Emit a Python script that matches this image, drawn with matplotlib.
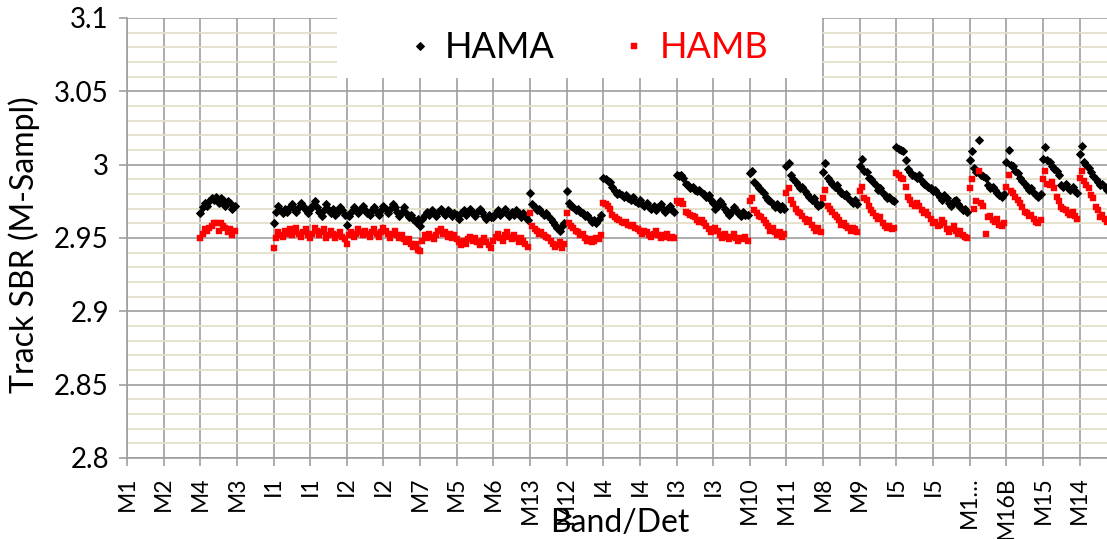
import numpy as np
import matplotlib
matplotlib.use("Agg")
import matplotlib.pyplot as plt
from matplotlib.patches import Rectangle
from matplotlib.ticker import FixedLocator, MultipleLocator, FuncFormatter

plt.rcParams['font.family'] = ['Lato', 'DejaVu Sans']

# bands in plotting order (M bands have 16 detectors, I bands 32)
bands = ["M1", "M2", "M4", "M3", "I1", "I2", "M7", "M5", "M6", "M13", "M12",
         "I4", "I3", "M10", "M11", "M8", "M9", "I5", "M16A", "M16B", "M15", "M14"]

# category labels shown every 16 detectors
tick_labels = ["M1", "M2", "M4", "M3", "I1", "I1", "I2", "I2", "M7", "M5", "M6",
               "M13", "M12", "I4", "I4", "I3", "I3", "M10", "M11", "M8", "M9",
               "I5", "I5", "M1\u2026", "M16B", "M15", "M14"]

# Track SBR per detector, HAMA
hama_M4 = [2.967, 2.971, 2.974, 2.972, 2.975, 2.977, 2.976, 2.978,
           2.974, 2.977, 2.976, 2.972, 2.975, 2.974, 2.970, 2.972]
hama_I1 = [2.960, 2.968, 2.972, 2.969, 2.967, 2.970, 2.968, 2.971,
           2.973, 2.970, 2.968, 2.971, 2.974, 2.972, 2.969, 2.967,
           2.970, 2.972, 2.975, 2.971, 2.968, 2.965, 2.969, 2.973,
           2.970, 2.967, 2.970, 2.966, 2.968, 2.971, 2.969, 2.966]
hama_I2 = [2.959, 2.965, 2.968, 2.971, 2.969, 2.967, 2.970, 2.972,
           2.969, 2.967, 2.966, 2.969, 2.971, 2.968, 2.966, 2.969,
           2.972, 2.970, 2.967, 2.970, 2.973, 2.971, 2.968, 2.965,
           2.968, 2.971, 2.967, 2.964, 2.966, 2.963, 2.961, 2.963]
hama_M7 = [2.958, 2.963, 2.966, 2.968, 2.966, 2.969, 2.967, 2.965,
           2.968, 2.970, 2.968, 2.966, 2.969, 2.967, 2.965, 2.967]
hama_M5 = [2.966, 2.963, 2.967, 2.969, 2.966, 2.968, 2.970, 2.967,
           2.965, 2.968, 2.970, 2.968, 2.965, 2.963, 2.966, 2.964]
hama_M6 = [2.964, 2.967, 2.969, 2.966, 2.968, 2.970, 2.967, 2.965,
           2.968, 2.966, 2.969, 2.967, 2.964, 2.967, 2.965, 2.962]
hama_M13 = [2.981, 2.973, 2.971, 2.969, 2.970, 2.968, 2.966, 2.967,
            2.965, 2.963, 2.961, 2.959, 2.957, 2.955, 2.958, 2.960]
hama_M12 = [2.982, 2.974, 2.972, 2.971, 2.969, 2.970, 2.968, 2.967,
            2.965, 2.966, 2.963, 2.961, 2.962, 2.960, 2.963, 2.966]
hama_I4 = [2.991, 2.990, 2.989, 2.988, 2.985, 2.982, 2.980, 2.981,
           2.979, 2.978, 2.979, 2.977, 2.976, 2.978, 2.975, 2.974,
           2.976, 2.973, 2.972, 2.974, 2.971, 2.970, 2.972, 2.969,
           2.971, 2.973, 2.970, 2.968, 2.970, 2.972, 2.969, 2.968]
hama_I3 = [2.993, 2.992, 2.993, 2.991, 2.987, 2.986, 2.984, 2.985,
           2.983, 2.982, 2.983, 2.981, 2.980, 2.978, 2.979, 2.976,
           2.974, 2.970, 2.972, 2.975, 2.973, 2.970, 2.968, 2.966,
           2.968, 2.971, 2.969, 2.967, 2.965, 2.968, 2.966, 2.966]
hama_M10 = [2.994, 2.996, 2.988, 2.986, 2.984, 2.983, 2.981, 2.978,
            2.976, 2.975, 2.973, 2.971, 2.973, 2.970, 2.972, 2.970]
hama_M11 = [2.999, 3.001, 2.993, 2.990, 2.988, 2.986, 2.984, 2.985,
            2.982, 2.980, 2.978, 2.976, 2.977, 2.974, 2.972, 2.973]
hama_M8 = [2.995, 3.001, 2.991, 2.989, 2.987, 2.985, 2.986, 2.983,
           2.981, 2.979, 2.980, 2.977, 2.975, 2.974, 2.976, 2.973]
hama_M9 = [2.999, 3.004, 2.996, 2.995, 2.991, 2.990, 2.988, 2.986,
           2.983, 2.984, 2.981, 2.979, 2.977, 2.978, 2.976, 2.975]
hama_I5 = [3.012, 3.011, 3.010, 3.009, 3.003, 2.997, 2.995, 2.993,
           2.992, 2.991, 2.993, 2.989, 2.987, 2.986, 2.985, 2.984,
           2.982, 2.983, 2.980, 2.978, 2.976, 2.979, 2.977, 2.974,
           2.972, 2.975, 2.976, 2.973, 2.971, 2.969, 2.970, 2.968]
hama_M16A = [3.003, 3.009, 2.998, 2.995, 3.017, 2.993, 2.992, 2.991,
             2.986, 2.984, 2.985, 2.983, 2.981, 2.979, 2.978, 2.980]
hama_M16B = [3.002, 3.010, 3.000, 2.999, 2.996, 2.994, 2.991, 2.989,
             2.987, 2.985, 2.983, 2.984, 2.981, 2.979, 2.978, 2.980]
hama_M15 = [3.004, 3.012, 3.003, 3.002, 2.999, 2.997, 2.996, 2.993,
            2.986, 2.985, 2.987, 2.984, 2.983, 2.985, 2.982, 2.981]
hama_M14 = [3.007, 3.013, 3.002, 3.000, 2.998, 2.995, 2.992, 2.990,
            2.988, 2.986, 2.987, 2.985, 2.983, 2.982, 2.980, 2.981]

# Track SBR per detector, HAMB
hamb_M4 = [2.950, 2.953, 2.956, 2.955, 2.957, 2.958, 2.960, 2.960,
           2.955, 2.960, 2.958, 2.957, 2.954, 2.956, 2.952, 2.955]
hamb_I1 = [2.943, 2.950, 2.954, 2.952, 2.951, 2.955, 2.953, 2.956,
           2.952, 2.954, 2.957, 2.953, 2.951, 2.954, 2.956, 2.952,
           2.950, 2.953, 2.957, 2.955, 2.952, 2.954, 2.956, 2.950,
           2.952, 2.955, 2.953, 2.950, 2.952, 2.954, 2.951, 2.949]
hamb_I2 = [2.946, 2.952, 2.954, 2.951, 2.953, 2.956, 2.954, 2.952,
           2.955, 2.953, 2.951, 2.954, 2.956, 2.953, 2.951, 2.954,
           2.957, 2.955, 2.953, 2.950, 2.953, 2.955, 2.952, 2.950,
           2.952, 2.949, 2.947, 2.949, 2.946, 2.944, 2.946, 2.942]
hamb_M7 = [2.941, 2.948, 2.952, 2.950, 2.953, 2.951, 2.949, 2.952,
           2.955, 2.956, 2.953, 2.954, 2.951, 2.953, 2.950, 2.952]
hamb_M5 = [2.949, 2.947, 2.945, 2.948, 2.946, 2.949, 2.951, 2.948,
           2.950, 2.947, 2.945, 2.948, 2.950, 2.947, 2.945, 2.943]
hamb_M6 = [2.948, 2.951, 2.953, 2.950, 2.948, 2.952, 2.954, 2.951,
           2.949, 2.952, 2.950, 2.947, 2.950, 2.948, 2.946, 2.944]
hamb_M13 = [2.967, 2.958, 2.956, 2.955, 2.953, 2.954, 2.952, 2.951,
            2.950, 2.948, 2.946, 2.944, 2.945, 2.947, 2.943, 2.946]
hamb_M12 = [2.967, 2.960, 2.958, 2.957, 2.955, 2.954, 2.952, 2.953,
            2.950, 2.948, 2.949, 2.947, 2.948, 2.950, 2.949, 2.952]
hamb_I4 = [2.974, 2.973, 2.972, 2.970, 2.966, 2.964, 2.963, 2.962,
           2.961, 2.960, 2.961, 2.959, 2.958, 2.959, 2.957, 2.956,
           2.955, 2.953, 2.955, 2.954, 2.952, 2.951, 2.953, 2.955,
           2.952, 2.950, 2.952, 2.951, 2.953, 2.950, 2.951, 2.950]
hamb_I3 = [2.975, 2.974, 2.975, 2.973, 2.968, 2.967, 2.966, 2.965,
           2.964, 2.962, 2.961, 2.962, 2.960, 2.958, 2.956, 2.954,
           2.955, 2.957, 2.955, 2.952, 2.950, 2.953, 2.951, 2.949,
           2.951, 2.953, 2.950, 2.948, 2.950, 2.949, 2.951, 2.948]
hamb_M10 = [2.975, 2.977, 2.969, 2.967, 2.965, 2.964, 2.962, 2.960,
            2.958, 2.955, 2.957, 2.954, 2.952, 2.954, 2.951, 2.953]
hamb_M11 = [2.981, 2.984, 2.976, 2.973, 2.970, 2.968, 2.967, 2.965,
            2.963, 2.961, 2.962, 2.959, 2.957, 2.955, 2.957, 2.954]
hamb_M8 = [2.977, 2.983, 2.972, 2.970, 2.968, 2.966, 2.964, 2.962,
           2.959, 2.960, 2.958, 2.957, 2.955, 2.957, 2.956, 2.954]
hamb_M9 = [2.982, 2.985, 2.977, 2.976, 2.972, 2.969, 2.967, 2.965,
           2.963, 2.964, 2.960, 2.958, 2.957, 2.958, 2.956, 2.957]
hamb_I5 = [2.994, 2.993, 2.991, 2.990, 2.985, 2.978, 2.976, 2.973,
           2.972, 2.974, 2.972, 2.969, 2.967, 2.968, 2.966, 2.963,
           2.960, 2.961, 2.958, 2.959, 2.962, 2.960, 2.956, 2.954,
           2.956, 2.958, 2.955, 2.953, 2.955, 2.952, 2.951, 2.950]
hamb_M16A = [2.984, 2.990, 2.970, 2.975, 2.996, 2.974, 2.972, 2.953,
             2.964, 2.965, 2.962, 2.961, 2.963, 2.959, 2.958, 2.960]
hamb_M16B = [2.985, 2.993, 2.982, 2.981, 2.978, 2.976, 2.974, 2.971,
             2.968, 2.967, 2.965, 2.966, 2.963, 2.961, 2.960, 2.962]
hamb_M15 = [2.990, 2.996, 2.987, 2.986, 2.988, 2.984, 2.978, 2.975,
            2.971, 2.970, 2.969, 2.967, 2.966, 2.968, 2.965, 2.963]
hamb_M14 = [2.991, 2.996, 2.989, 2.986, 2.984, 2.979, 2.977, 2.971,
            2.969, 2.964, 2.966, 2.963, 2.961, 2.962, 2.960, 2.958]

# M1, M2 and M3 have no data
hama_bands = {"M4": hama_M4, "I1": hama_I1, "I2": hama_I2, "M7": hama_M7,
              "M5": hama_M5, "M6": hama_M6, "M13": hama_M13, "M12": hama_M12,
              "I4": hama_I4, "I3": hama_I3, "M10": hama_M10, "M11": hama_M11,
              "M8": hama_M8, "M9": hama_M9, "I5": hama_I5, "M16A": hama_M16A,
              "M16B": hama_M16B, "M15": hama_M15, "M14": hama_M14}
hamb_bands = {"M4": hamb_M4, "I1": hamb_I1, "I2": hamb_I2, "M7": hamb_M7,
              "M5": hamb_M5, "M6": hamb_M6, "M13": hamb_M13, "M12": hamb_M12,
              "I4": hamb_I4, "I3": hamb_I3, "M10": hamb_M10, "M11": hamb_M11,
              "M8": hamb_M8, "M9": hamb_M9, "I5": hamb_I5, "M16A": hamb_M16A,
              "M16B": hamb_M16B, "M15": hamb_M15, "M14": hamb_M14}


def stack(series):
    """Concatenate per-band values in axis order, NaN for empty bands."""
    out = []
    for b in bands:
        n = 32 if b.startswith("I") else 16
        out.extend(series.get(b, [np.nan] * n))
    return np.array(out, dtype=float)


hama = stack(hama_bands)
hamb = stack(hamb_bands)
det = np.arange(len(hama))

W, H = 1107, 539
fig = plt.figure(figsize=(W / 100, H / 100), dpi=100)
ax = fig.add_axes([127 / W, 81 / H, 980 / W, 440 / H])

grid_gray = "#9E9E9E"
ax.set_xlim(0, 428)
ax.set_ylim(2.8, 3.1)

# grids
ax.set_axisbelow(True)
ax.xaxis.set_major_locator(FixedLocator(np.arange(0, len(tick_labels) * 16, 16)))
ax.set_xticklabels(tick_labels, rotation=90, fontsize=16.5)
ax.yaxis.set_major_locator(MultipleLocator(0.05))
ax.yaxis.set_minor_locator(MultipleLocator(0.01))
ax.yaxis.set_major_formatter(FuncFormatter(lambda v, p: f"{round(v, 2):g}"))
ax.grid(which="minor", axis="y", color="#E3DFC9", lw=1.3)
ax.grid(which="major", axis="both", color=grid_gray, lw=1.2)
ax.tick_params(axis="both", which="major", direction="out", length=6,
               width=1.2, color=grid_gray, pad=7)
ax.tick_params(axis="y", which="major", labelsize=20)
ax.tick_params(axis="y", which="minor", length=0)
for lbl in ax.get_xticklabels():
    lbl.set_va("top")
for side in ["top", "right"]:
    ax.spines[side].set_visible(False)
for side in ["left", "bottom"]:
    ax.spines[side].set_color(grid_gray)
    ax.spines[side].set_linewidth(1.2)

# white legend area over the grid
ax.add_patch(Rectangle((0.2143, 0.8636), 0.495, 0.1364, transform=ax.transAxes,
                       facecolor="white", edgecolor="none", zorder=1))

ax.plot(det, hama, linestyle="none", marker="D", ms=3.8, mfc="black",
        mec="black", mew=0.7, label="HAMA", zorder=3)
ax.plot(det, hamb, linestyle="none", marker="s", ms=4.2, mfc="red",
        mec="red", mew=0.3, label="HAMB", zorder=3)

leg = ax.legend(loc="center", bbox_to_anchor=(0.471, 0.932), ncol=2,
                frameon=False, fontsize=26, handlelength=0.6,
                handletextpad=0.4, columnspacing=1.9,
                labelcolor="markerfacecolor")
leg.set_zorder(5)

fig.text(24 / W, 1 - 245 / H, "Track SBR (M-Sampl)", rotation=90,
         ha="center", va="center", fontsize=23)
fig.text(620 / W, 1 - 532 / H, "Band/Det", ha="center", va="baseline",
         fontsize=23)

fig.savefig("out.png", dpi=100)
